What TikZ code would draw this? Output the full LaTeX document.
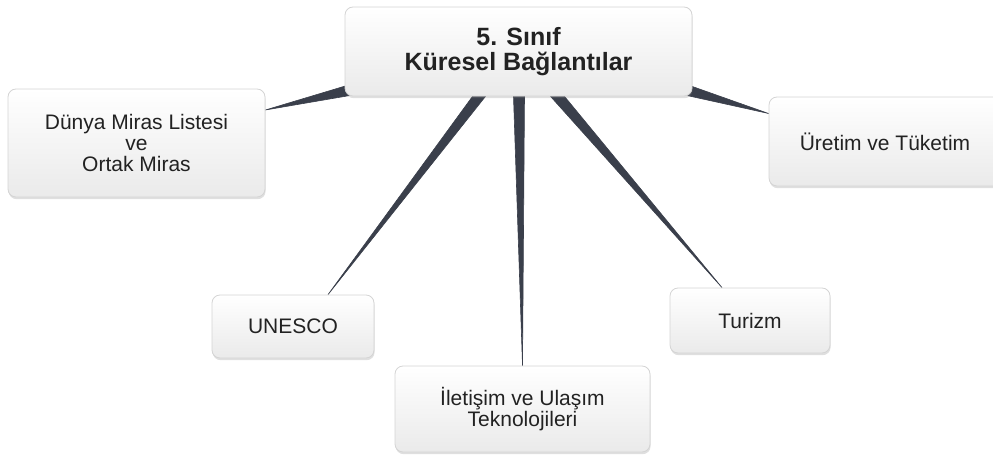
\documentclass[tikz,border=0pt]{standalone}
\usepackage{fontspec}
\setmainfont{Liberation Sans}
\usetikzlibrary{shadows,calc}
\pgfdeclarelayer{background}
\pgfsetlayers{background,main}
\definecolor{wedgecol}{HTML}{3A3F4B}
\definecolor{boxline}{HTML}{D4D4D4}
\definecolor{boxbot}{HTML}{EAEAEA}
\definecolor{txt}{HTML}{222222}
\begin{document}
\begin{tikzpicture}[x=1pt,y=-1pt,
 box/.style={draw=boxline, line width=0.8pt, rounded corners=8pt,
   top color=white, bottom color=boxbot,
   drop shadow={opacity=0.25, shadow xshift=0.6pt, shadow yshift=-2.2pt},
   align=center, inner sep=0pt, text=txt,
   font=\fontsize{21}{21}\selectfont},
 wedge/.style={fill=wedgecol, draw=wedgecol, line width=0.6pt, line join=round}]
\useasboundingbox (0,0) rectangle (993,455);
\node[box, minimum width=347pt, minimum height=89pt,
  font=\bfseries\fontsize{25}{25}\selectfont] (c) at (518.5,51.5) {5. Sınıf\\Küresel Bağlantılar};
\node[box, minimum width=257pt, minimum height=108pt] (dm) at (136.5,143) {Dünya Miras Listesi\\ve\\Ortak Miras};
\node[box, minimum width=232pt, minimum height=89pt] (ur) at (885,141.5) {Üretim ve Tüketim};
\node[box, minimum width=162pt, minimum height=63pt] (un) at (293,326.5) {UNESCO};
\node[box, minimum width=255pt, minimum height=86pt] (il) at (522.5,409) {İletişim ve Ulaşım\\Teknolojileri};
\node[box, minimum width=160pt, minimum height=65pt] (tz) at (750,320.5) {Turizm};
\begin{pgfonlayer}{background}
\filldraw[wedge] ($(c.south)+(-46,0)$) -- ($(c.south)+(-33,0)$) -- ($(un.north)+(35,0)$) -- cycle;
\filldraw[wedge] ($(c.south)+(-5,0)$) -- ($(c.south)+(6,0)$) -- (il.north) -- cycle;
\filldraw[wedge] ($(c.south)+(32,0)$) -- ($(c.south)+(46,0)$) -- ($(tz.north)+(-28,0)$) -- cycle;
\filldraw[wedge] ($(c.south west)+(6,-12)$) -- ($(c.south west)+(6,-1)$) -- ($(dm.east)+(0,-33)$) -- cycle;
\filldraw[wedge] ($(c.south east)+(-6,-12)$) -- ($(c.south east)+(-6,-1)$) -- ($(ur.west)+(0,-28)$) -- cycle;
\end{pgfonlayer}
\end{tikzpicture}
\end{document}
